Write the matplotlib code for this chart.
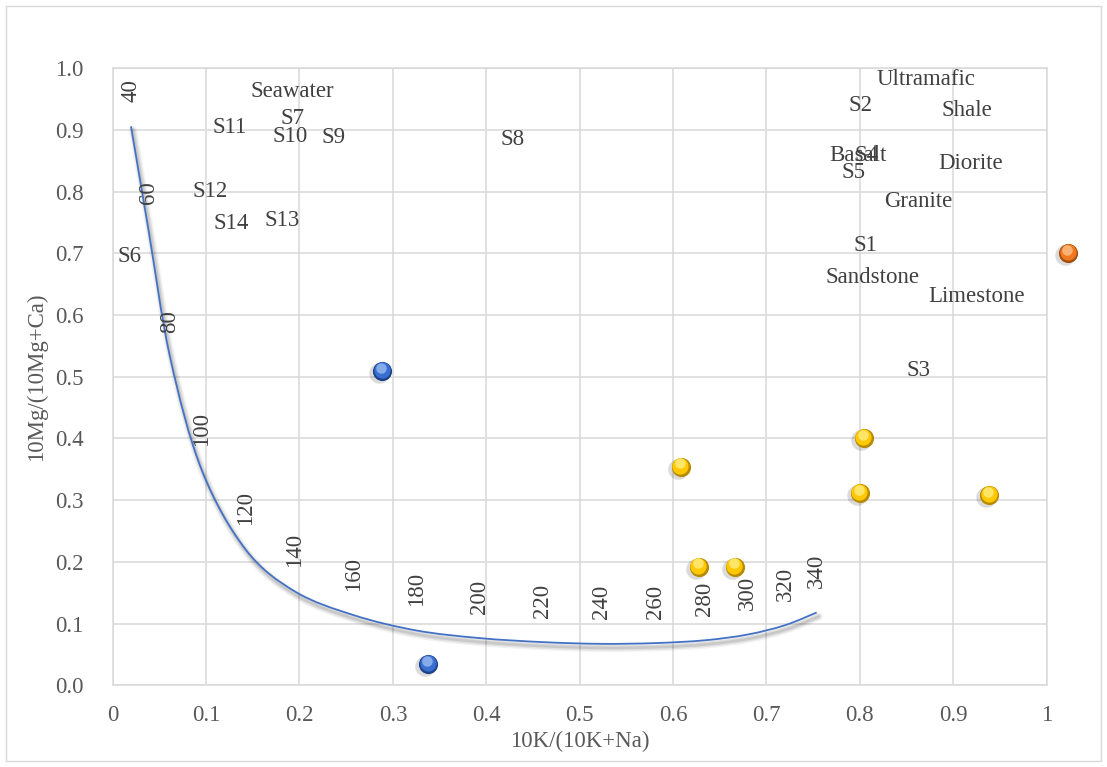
import numpy as np
import matplotlib
matplotlib.use("Agg")
import matplotlib.pyplot as plt
from matplotlib.path import Path
from matplotlib.patches import PathPatch, Rectangle
from matplotlib.transforms import offset_copy

plt.rcParams['font.family'] = ['Liberation Serif', 'DejaVu Serif']

# Full-equilibrium line, labelled by temperature (°C)
temps = [40, 60, 80, 100, 120, 140, 160, 180, 200, 220, 240, 260, 280, 300, 320, 340]
eq_x = [0.0196, 0.0381, 0.0614, 0.0953, 0.1424, 0.1952, 0.2583, 0.3255, 0.3932,
        0.4607, 0.5235, 0.5817, 0.6341, 0.6798, 0.7198, 0.7537]
eq_y = [0.906, 0.740, 0.532, 0.349, 0.220, 0.152, 0.1136, 0.0888, 0.0765,
        0.0700, 0.0672, 0.0685, 0.0730, 0.0823, 0.0974, 0.118]

# Reference compositions shown as named labels
ref_names = ["Seawater", "S7", "S11", "S10", "S9", "S8", "S12", "S14", "S13", "S6",
             "Ultramafic", "S2", "Shale", "Basalt", "S4", "S5", "Diorite", "Granite",
             "S1", "Sandstone", "Limestone", "S3"]
ref_x = [0.1925, 0.192, 0.125, 0.190, 0.237, 0.428, 0.104, 0.127, 0.181, 0.0185,
         0.871, 0.801, 0.915, 0.798, 0.807, 0.793, 0.919, 0.862,
         0.806, 0.813, 0.925, 0.863]
ref_y = [0.968, 0.923, 0.909, 0.895, 0.893, 0.890, 0.805, 0.754, 0.758, 0.699,
         0.986, 0.944, 0.936, 0.863, 0.863, 0.836, 0.851, 0.789,
         0.718, 0.665, 0.635, 0.515]

# Sample groups
blue_x = [0.2887, 0.338]
blue_y = [0.509, 0.0345]
yellow_x = [0.6085, 0.6277, 0.6663, 0.8044, 0.7998, 0.9386]
yellow_y = [0.354, 0.192, 0.192, 0.400, 0.311, 0.308]
orange_x = [1.0231]
orange_y = [0.700]

x_ticks = [0, 0.1, 0.2, 0.3, 0.4, 0.5, 0.6, 0.7, 0.8, 0.9, 1.0]
x_tick_labels = ["0", "0.1", "0.2", "0.3", "0.4", "0.5", "0.6", "0.7", "0.8", "0.9", "1"]
y_ticks = [0, 0.1, 0.2, 0.3, 0.4, 0.5, 0.6, 0.7, 0.8, 0.9, 1.0]
y_tick_labels = ["0.0", "0.1", "0.2", "0.3", "0.4", "0.5", "0.6", "0.7", "0.8", "0.9", "1.0"]

FS = 16.5
TXT = "#404040"
TICK = "#595959"
GRID = "#d9d9d9"

fig = plt.figure(figsize=(11.07, 7.67), dpi=100)
fig.patch.set_facecolor("white")
fig.patches.append(Rectangle((6 / 1107, 6 / 767), 1095 / 1107, 755 / 767,
                             transform=fig.transFigure, fill=False,
                             edgecolor=GRID, linewidth=1.0))

ax = fig.add_axes([0.1018, 0.1065, 0.8437, 0.8045])
ax.set_xlim(0, 1)
ax.set_ylim(0, 1)
ax.set_xticks(x_ticks)
ax.set_xticklabels(x_tick_labels)
ax.set_yticks(y_ticks)
ax.set_yticklabels(y_tick_labels)
ax.tick_params(length=0, labelsize=FS, colors=TICK, pad=21)
ax.tick_params(axis='x', pad=14)
ax.grid(True, color=GRID, linewidth=1.1)
ax.set_axisbelow(True)
for sp in ax.spines.values():
    sp.set_color(GRID)
    sp.set_linewidth(1.1)

ax.set_xlabel("10K/(10K+Na)", fontsize=FS, color=TICK, labelpad=4)
ax.set_ylabel("10Mg/(10Mg+Ca)", fontsize=FS, color=TICK, labelpad=6)


def smooth_path(xs, ys):
    """Catmull-Rom spline through the points, as cubic Bezier segments."""
    pts = np.column_stack([xs, ys])
    n = len(pts)
    verts = [pts[0]]
    codes = [Path.MOVETO]
    for i in range(n - 1):
        p0 = pts[i - 1] if i > 0 else pts[i]
        p1 = pts[i]
        p2 = pts[i + 1]
        p3 = pts[i + 2] if i + 2 < n else pts[i + 1]
        c1 = p1 + (p2 - p0) / 6.0
        c2 = p2 - (p3 - p1) / 6.0
        verts += [c1, c2, p2]
        codes += [Path.CURVE4] * 3
    return Path(verts, codes)


eq_path = smooth_path(eq_x, eq_y)
# soft shadow beneath the line
for dx, dy, lw, al in [(2, -4, 6, 0.05), (2, -4, 4, 0.07), (2, -4, 2, 0.10)]:
    ax.add_patch(PathPatch(eq_path, fill=False, edgecolor="black", linewidth=lw,
                           alpha=al, capstyle='round',
                           transform=offset_copy(ax.transData, fig, x=dx, y=dy, units='dots')))
ax.add_patch(PathPatch(eq_path, fill=False, edgecolor="#4472C4", linewidth=1.3))

for t, x, y in zip(temps, eq_x, eq_y):
    ax.annotate(str(t), (x, y), xytext=(0, 17.6), textcoords='offset points',
                rotation=90, ha='center', va='bottom', fontsize=FS, color=TXT)

label_tr = offset_copy(ax.transData, fig, x=0, y=-3, units='dots')
for name, x, y in zip(ref_names, ref_x, ref_y):
    ax.text(x, y, name, ha='center', va='center', fontsize=FS, color=TXT,
            clip_on=False, transform=label_tr)


def spheres(xs, ys, base, dark, light):
    S = 190
    ax.scatter(xs, ys, s=S * 1.15, color="black", alpha=0.14, linewidths=0,
               transform=offset_copy(ax.transData, fig, x=-3, y=-2, units='dots'),
               clip_on=False, zorder=4)
    ax.scatter(xs, ys, s=S, color=dark, linewidths=0, clip_on=False, zorder=5)
    ax.scatter(xs, ys, s=S * 0.72, color=base, linewidths=0, clip_on=False, zorder=6,
               transform=offset_copy(ax.transData, fig, x=-0.6, y=1.2, units='dots'))
    ax.scatter(xs, ys, s=S * 0.30, color=light, alpha=0.75, linewidths=0, clip_on=False,
               zorder=7, transform=offset_copy(ax.transData, fig, x=-1.0, y=3.5, units='dots'))


spheres(blue_x, blue_y, "#3a6fd0", "#1d428c", "#9fc0f5")
spheres(yellow_x, yellow_y, "#ffc800", "#b88a00", "#fff08a")
spheres(orange_x, orange_y, "#f07a20", "#a44e0e", "#ffc48f")

fig.savefig("out.png", dpi=100, facecolor="white")
